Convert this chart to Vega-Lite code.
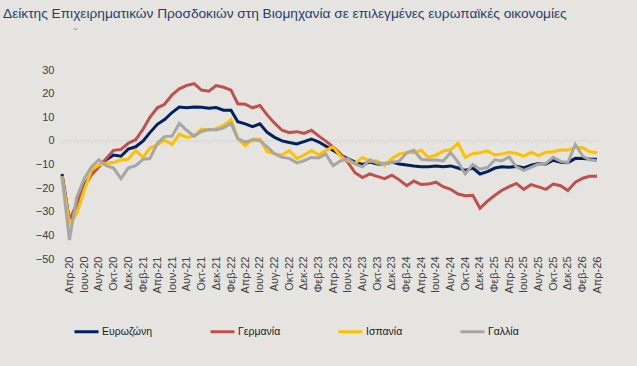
{
  "$schema": "https://vega.github.io/schema/vega-lite/v6.json",
  "width": 535,
  "height": 189,
  "autosize": {"type": "none"},
  "padding": {"left": 62, "top": 70, "right": 40, "bottom": 107},
  "background": "#E5E4E0",
  "title": {
    "text": "Δείκτης Επιχειρηματικών Προσδοκιών στη Βιομηχανία σε επιλεγμένες ευρωπαϊκές οικονομίες",
    "anchor": "start",
    "frame": "group",
    "dx": -59,
    "offset": 6,
    "font": "Liberation Sans",
    "fontSize": 13.7,
    "fontWeight": "normal",
    "color": "#1F3F6E"
  },
  "config": {
    "view": {"stroke": null},
    "font": "Liberation Sans",
    "axisY": {"grid": false, "domain": false, "ticks": false, "labelPadding": 8, "labelFontSize": 11, "labelColor": "#404040", "tickCount": 8}
  },
  "data": {
    "format": {"parse": {"d": "date:'%Y-%m'"}},
    "values": [
      {"d": "2020-03", "Ευρωζώνη": -14, "Γερμανία": -15, "Ισπανία": -15, "Γαλλία": -15},
      {"d": "2020-04", "Ευρωζώνη": -34, "Γερμανία": -34, "Ισπανία": -35, "Γαλλία": -42},
      {"d": "2020-05", "Ευρωζώνη": -27, "Γερμανία": -27, "Ισπανία": -31, "Γαλλία": -24},
      {"d": "2020-06", "Ευρωζώνη": -19, "Γερμανία": -19.5, "Ισπανία": -21, "Γαλλία": -16},
      {"d": "2020-07", "Ευρωζώνη": -14, "Γερμανία": -14.4, "Ισπανία": -12.5, "Γαλλία": -11},
      {"d": "2020-08", "Ευρωζώνη": -10.5, "Γερμανία": -11, "Ισπανία": -10.2, "Γαλλία": -8},
      {"d": "2020-09", "Ευρωζώνη": -8, "Γερμανία": -7.5, "Ισπανία": -9.5, "Γαλλία": -10.5},
      {"d": "2020-10", "Ευρωζώνη": -6, "Γερμανία": -4, "Ισπανία": -9.2, "Γαλλία": -11.5},
      {"d": "2020-11", "Ευρωζώνη": -6.5, "Γερμανία": -3.6, "Ισπανία": -8, "Γαλλία": -16},
      {"d": "2020-12", "Ευρωζώνη": -3.5, "Γερμανία": -1, "Ισπανία": -7.8, "Γαλλία": -11.5},
      {"d": "2021-01", "Ευρωζώνη": -2.5, "Γερμανία": 0.5, "Ισπανία": -4, "Γαλλία": -10.5},
      {"d": "2021-02", "Ευρωζώνη": 0, "Γερμανία": 5, "Ισπανία": -7, "Γαλλία": -7.8},
      {"d": "2021-03", "Ευρωζώνη": 3.5, "Γερμανία": 10, "Ισπανία": -3, "Γαλλία": -7.5},
      {"d": "2021-04", "Ευρωζώνη": 7, "Γερμανία": 14, "Ισπανία": -1.7, "Γαλλία": -1},
      {"d": "2021-05", "Ευρωζώνη": 9, "Γερμανία": 15.5, "Ισπανία": 0.4, "Γαλλία": 1.8},
      {"d": "2021-06", "Ευρωζώνη": 12, "Γερμανία": 19.5, "Ισπανία": -1.5, "Γαλλία": 2},
      {"d": "2021-07", "Ευρωζώνη": 14.3, "Γερμανία": 22, "Ισπανία": 2.9, "Γαλλία": 7.4},
      {"d": "2021-08", "Ευρωζώνη": 14, "Γερμανία": 23.5, "Ισπανία": 1.5, "Γαλλία": 4.5},
      {"d": "2021-09", "Ευρωζώνη": 14.3, "Γερμανία": 24.2, "Ισπανία": 2, "Γαλλία": 2},
      {"d": "2021-10", "Ευρωζώνη": 14.2, "Γερμανία": 21.5, "Ισπανία": 5, "Γαλλία": 4},
      {"d": "2021-11", "Ευρωζώνη": 13.8, "Γερμανία": 21, "Ισπανία": 4.5, "Γαλλία": 4.8},
      {"d": "2021-12", "Ευρωζώνη": 14.1, "Γερμανία": 23.4, "Ισπανία": 5.3, "Γαλλία": 4.6},
      {"d": "2022-01", "Ευρωζώνη": 13, "Γερμανία": 22.7, "Ισπανία": 6.5, "Γαλλία": 5.5},
      {"d": "2022-02", "Ευρωζώνη": 13, "Γερμανία": 21.5, "Ισπανία": 9, "Γαλλία": 7.4},
      {"d": "2022-03", "Ευρωζώνη": 8.1, "Γερμανία": 15.7, "Ισπανία": 1, "Γαλλία": 1},
      {"d": "2022-04", "Ευρωζώνη": 7.2, "Γερμανία": 15.5, "Ισπανία": -2, "Γαλλία": -0.5},
      {"d": "2022-05", "Ευρωζώνη": 6, "Γερμανία": 14, "Ισπανία": 0.7, "Γαλλία": 0.4},
      {"d": "2022-06", "Ευρωζώνη": 7.2, "Γερμανία": 15, "Ισπανία": 0.8, "Γαλλία": 0.1},
      {"d": "2022-07", "Ευρωζώνη": 3.6, "Γερμανία": 11, "Ισπανία": -4.6, "Γαλλία": -2.5},
      {"d": "2022-08", "Ευρωζώνη": 1.5, "Γερμανία": 7.5, "Ισπανία": -5.5, "Γαλλία": -5.5},
      {"d": "2022-09", "Ευρωζώνη": 0, "Γερμανία": 4.5, "Ισπανία": -6, "Γαλλία": -7},
      {"d": "2022-10", "Ευρωζώνη": -0.7, "Γερμανία": 3.5, "Ισπανία": -4.1, "Γαλλία": -7.4},
      {"d": "2022-11", "Ευρωζώνη": -1.3, "Γερμανία": 3.9, "Ισπανία": -7.5, "Γαλλία": -9.3},
      {"d": "2022-12", "Ευρωζώνη": -0.3, "Γερμανία": 3.2, "Ισπανία": -6, "Γαλλία": -8.4},
      {"d": "2023-01", "Ευρωζώνη": 0.8, "Γερμανία": 4.5, "Ισπανία": -4.1, "Γαλλία": -7},
      {"d": "2023-02", "Ευρωζώνη": -0.5, "Γερμανία": 2, "Ισπανία": -6, "Γαλλία": -7.2},
      {"d": "2023-03", "Ευρωζώνη": -2.2, "Γερμανία": 0, "Ισπανία": -4, "Γαλλία": -5.5},
      {"d": "2023-04", "Ευρωζώνη": -4, "Γερμανία": -2.5, "Ισπανία": -2.5, "Γαλλία": -10.5},
      {"d": "2023-05", "Ευρωζώνη": -6, "Γερμανία": -5.5, "Ισπανία": -6.5, "Γαλλία": -8.5},
      {"d": "2023-06", "Ευρωζώνη": -7.5, "Γερμανία": -9, "Ισπανία": -8.5, "Γαλλία": -7.5},
      {"d": "2023-07", "Ευρωζώνη": -9, "Γερμανία": -13.5, "Ισπανία": -9.5, "Γαλλία": -9.8},
      {"d": "2023-08", "Ευρωζώνη": -10, "Γερμανία": -15.5, "Ισπανία": -7, "Γαλλία": -11},
      {"d": "2023-09", "Ευρωζώνη": -9, "Γερμανία": -14, "Ισπανία": -8.6, "Γαλλία": -8},
      {"d": "2023-10", "Ευρωζώνη": -9.8, "Γερμανία": -15, "Ισπανία": -8.5, "Γαλλία": -9.5},
      {"d": "2023-11", "Ευρωζώνη": -9.8, "Γερμανία": -16, "Ισπανία": -10.5, "Γαλλία": -9.5},
      {"d": "2023-12", "Ευρωζώνη": -9, "Γερμανία": -14.5, "Ισπανία": -7.5, "Γαλλία": -9.2},
      {"d": "2024-01", "Ευρωζώνη": -9.8, "Γερμανία": -16.5, "Ισπανία": -5.5, "Γαλλία": -8.5},
      {"d": "2024-02", "Ευρωζώνη": -10.2, "Γερμανία": -19, "Ισπανία": -5, "Γαλλία": -5},
      {"d": "2024-03", "Ευρωζώνη": -10.6, "Γερμανία": -17, "Ισπανία": -5, "Γαλλία": -4},
      {"d": "2024-04", "Ευρωζώνη": -10.9, "Γερμανία": -18.5, "Ισπανία": -4, "Γαλλία": -7.8},
      {"d": "2024-05", "Ευρωζώνη": -10.9, "Γερμανία": -18.3, "Ισπανία": -7, "Γαλλία": -8.1},
      {"d": "2024-06", "Ευρωζώνη": -10.6, "Γερμανία": -17.5, "Ισπανία": -6, "Γαλλία": -8.1},
      {"d": "2024-07", "Ευρωζώνη": -10.9, "Γερμανία": -19.4, "Ισπανία": -4.3, "Γαλλία": -8.5},
      {"d": "2024-08", "Ευρωζώνη": -10.6, "Γερμανία": -20.5, "Ισπανία": -3.8, "Γαλλία": -5},
      {"d": "2024-09", "Ευρωζώνη": -11.5, "Γερμανία": -22.5, "Ισπανία": -1, "Γαλλία": -9},
      {"d": "2024-10", "Ευρωζώνη": -12.5, "Γερμανία": -23.2, "Ισπανία": -7, "Γαλλία": -14},
      {"d": "2024-11", "Ευρωζώνη": -11.5, "Γερμανία": -23, "Ισπανία": -5.3, "Γαλλία": -10},
      {"d": "2024-12", "Ευρωζώνη": -14, "Γερμανία": -28.5, "Ισπανία": -5, "Γαλλία": -12},
      {"d": "2025-01", "Ευρωζώνη": -13, "Γερμανία": -25.5, "Ισπανία": -4.2, "Γαλλία": -11.3},
      {"d": "2025-02", "Ευρωζώνη": -11.5, "Γερμανία": -23, "Ισπανία": -6, "Γαλλία": -8},
      {"d": "2025-03", "Ευρωζώνη": -11, "Γερμανία": -21, "Ισπανία": -5.6, "Γαλλία": -8.5},
      {"d": "2025-04", "Ευρωζώνη": -11.2, "Γερμανία": -19.4, "Ισπανία": -4.8, "Γαλλία": -6.8},
      {"d": "2025-05", "Ευρωζώνη": -10.8, "Γερμανία": -18, "Ισπανία": -5.3, "Γαλλία": -11},
      {"d": "2025-06", "Ευρωζώνη": -11.4, "Γερμανία": -20.5, "Ισπανία": -6.5, "Γαλλία": -12.5},
      {"d": "2025-07", "Ευρωζώνη": -10.3, "Γερμανία": -18.5, "Ισπανία": -4.8, "Γαλλία": -11.2},
      {"d": "2025-08", "Ευρωζώνη": -9.6, "Γερμανία": -19.5, "Ισπανία": -6.2, "Γαλλία": -9.8},
      {"d": "2025-09", "Ευρωζώνη": -9.8, "Γερμανία": -20.5, "Ισπανία": -4.8, "Γαλλία": -9.5},
      {"d": "2025-10", "Ευρωζώνη": -8.2, "Γερμανία": -18.3, "Ισπανία": -4.6, "Γαλλία": -7},
      {"d": "2025-11", "Ευρωζώνη": -9, "Γερμανία": -19, "Ισπανία": -3.9, "Γαλλία": -8.7},
      {"d": "2025-12", "Ευρωζώνη": -9.2, "Γερμανία": -21, "Ισπανία": -3.9, "Γαλλία": -9.2},
      {"d": "2026-01", "Ευρωζώνη": -7.4, "Γερμανία": -17.5, "Ισπανία": -2.7, "Γαλλία": -1.5},
      {"d": "2026-02", "Ευρωζώνη": -7.5, "Γερμανία": -15.8, "Ισπανία": -2.9, "Γαλλία": -6.5},
      {"d": "2026-03", "Ευρωζώνη": -7.7, "Γερμανία": -15, "Ισπανία": -4.6, "Γαλλία": -8},
      {"d": "2026-04", "Ευρωζώνη": -7.8, "Γερμανία": -15, "Ισπανία": -5, "Γαλλία": -8.4}
    ]
  },
  "transform": [{"fold": ["Ευρωζώνη", "Γερμανία", "Ισπανία", "Γαλλία"], "as": ["s", "v"]}],
  "layer": [
    {
      "mark": {"type": "rule", "color": "#D6D6D4", "strokeWidth": 1},
      "encoding": {
        "x": {
          "aggregate": "min", "field": "d", "type": "temporal",
          "scale": {"domain": [{"year": 2020, "month": 3, "date": 1}, {"year": 2026, "month": 4, "date": 1}], "nice": false},
          "axis": {
            "orient": "bottom", "offset": -118.1, "domain": false, "labels": false, "title": null, "grid": false,
            "ticks": true, "tickSize": 3, "tickColor": "#D6D6D4",
            "values": [
              {"year": 2020, "month": 3}, {"year": 2020, "month": 5}, {"year": 2020, "month": 7}, {"year": 2020, "month": 9}, {"year": 2020, "month": 11},
              {"year": 2021, "month": 1}, {"year": 2021, "month": 3}, {"year": 2021, "month": 5}, {"year": 2021, "month": 7}, {"year": 2021, "month": 9}, {"year": 2021, "month": 11},
              {"year": 2022, "month": 1}, {"year": 2022, "month": 3}, {"year": 2022, "month": 5}, {"year": 2022, "month": 7}, {"year": 2022, "month": 9}, {"year": 2022, "month": 11},
              {"year": 2023, "month": 1}, {"year": 2023, "month": 3}, {"year": 2023, "month": 5}, {"year": 2023, "month": 7}, {"year": 2023, "month": 9}, {"year": 2023, "month": 11},
              {"year": 2024, "month": 1}, {"year": 2024, "month": 3}, {"year": 2024, "month": 5}, {"year": 2024, "month": 7}, {"year": 2024, "month": 9}, {"year": 2024, "month": 11},
              {"year": 2025, "month": 1}, {"year": 2025, "month": 3}, {"year": 2025, "month": 5}, {"year": 2025, "month": 7}, {"year": 2025, "month": 9}, {"year": 2025, "month": 11},
              {"year": 2026, "month": 1}, {"year": 2026, "month": 3}
            ]
          }
        },
        "x2": {"aggregate": "max", "field": "d"},
        "y": {"datum": 0, "type": "quantitative", "scale": {"domain": [-50, 30], "nice": false}}
      }
    },
    {
      "mark": {"type": "line", "strokeWidth": 3, "strokeJoin": "miter", "interpolate": "linear"},
      "encoding": {
        "x": {
          "field": "d", "type": "temporal",
          "axis": {
            "orient": "bottom", "title": null, "domain": false, "ticks": false, "grid": false,
            "labelAngle": -90, "labelAlign": "right", "labelBaseline": "middle", "labelPadding": -3,
            "labelFontSize": 11, "labelColor": "#404040", "labelOverlap": false, "labelFlush": false,
            "labelExpr": "['Ιαν','Φεβ','Μαρ','Απρ','Μαϊ','Ιουν','Ιουλ','Αυγ','Σεπ','Οκτ','Νοε','Δεκ'][month(datum.value)] + '-' + timeFormat(datum.value, '%y')",
            "values": [
              {"year": 2020, "month": 4}, {"year": 2020, "month": 6}, {"year": 2020, "month": 8}, {"year": 2020, "month": 10}, {"year": 2020, "month": 12},
              {"year": 2021, "month": 2}, {"year": 2021, "month": 4}, {"year": 2021, "month": 6}, {"year": 2021, "month": 8}, {"year": 2021, "month": 10}, {"year": 2021, "month": 12},
              {"year": 2022, "month": 2}, {"year": 2022, "month": 4}, {"year": 2022, "month": 6}, {"year": 2022, "month": 8}, {"year": 2022, "month": 10}, {"year": 2022, "month": 12},
              {"year": 2023, "month": 2}, {"year": 2023, "month": 4}, {"year": 2023, "month": 6}, {"year": 2023, "month": 8}, {"year": 2023, "month": 10}, {"year": 2023, "month": 12},
              {"year": 2024, "month": 2}, {"year": 2024, "month": 4}, {"year": 2024, "month": 6}, {"year": 2024, "month": 8}, {"year": 2024, "month": 10}, {"year": 2024, "month": 12},
              {"year": 2025, "month": 2}, {"year": 2025, "month": 4}, {"year": 2025, "month": 6}, {"year": 2025, "month": 8}, {"year": 2025, "month": 10}, {"year": 2025, "month": 12},
              {"year": 2026, "month": 2}, {"year": 2026, "month": 4}
            ]
          }
        },
        "y": {
          "field": "v", "type": "quantitative",
          "axis": {"title": "ˇ", "titleAngle": 0, "titleX": 13, "titleY": -37, "titleAlign": "center", "titleBaseline": "middle", "titleFontSize": 12, "titleFontWeight": "normal", "titleColor": "#7F9DBB", "titleFont": "Liberation Sans"}
        },
        "color": {
          "field": "s", "type": "nominal",
          "scale": {"domain": ["Ευρωζώνη", "Γερμανία", "Ισπανία", "Γαλλία"], "range": ["#002060", "#C0504D", "#FFC000", "#A6A6A6"]},
          "legend": {
            "title": null, "orient": "none", "legendX": 11, "legendY": 248, "direction": "horizontal", "columns": 4,
            "columnPadding": 51, "symbolType": "stroke", "symbolSize": 576, "symbolStrokeWidth": 3,
            "labelFontSize": 10.5, "labelColor": "#1A1A1A", "labelOffset": 2, "padding": 0
          }
        }
      }
    }
  ],
  "resolve": {"axis": {"x": "independent"}}
}
